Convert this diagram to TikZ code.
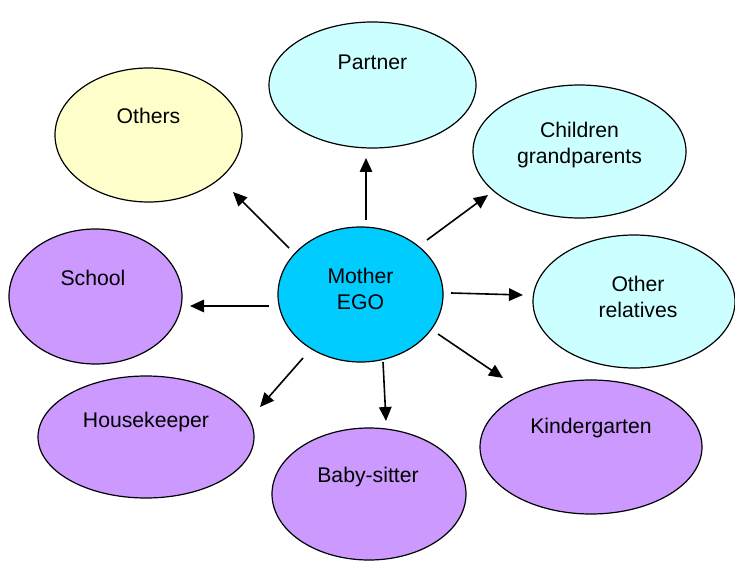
\documentclass[tikz,border=0pt]{standalone}
\usepackage{fontspec}
\setmainfont{Liberation Sans}
\usetikzlibrary{shapes.geometric,arrows.meta}
\definecolor{lcyan}{HTML}{CCFFFF}
\definecolor{lyellow}{HTML}{FFFFCC}
\definecolor{lpurple}{HTML}{CC99FF}
\definecolor{egoblue}{HTML}{00CCFF}
\begin{document}
\begin{tikzpicture}[x=1pt,y=-1pt,
  bubble/.style={ellipse,draw=black,line width=1.2pt,inner sep=0pt},
  txt/.style={align=center,font=\fontsize{21.2}{26}\selectfont,inner sep=0pt},
  arr/.style={line width=1.6pt,-{Triangle[length=14pt,width=12.5pt]}}]
\useasboundingbox (0,0) rectangle (735,561);
% bubbles
\node[bubble,fill=lcyan,minimum width=207pt,minimum height=126pt] (partner) at (372.5,85) {};
\node[bubble,fill=lyellow,minimum width=187pt,minimum height=134pt] (others) at (148.5,135) {};
\node[bubble,fill=lcyan,minimum width=213pt,minimum height=133pt] (children) at (579.5,151.5) {};
\node[bubble,fill=egoblue,minimum width=165pt,minimum height=135pt] (ego) at (360.5,294.5) {};
\node[bubble,fill=lpurple,minimum width=173pt,minimum height=135pt] (school) at (95.5,296.5) {};
\node[bubble,fill=lcyan,minimum width=202pt,minimum height=133pt] (relatives) at (634,301.5) {};
\node[bubble,fill=lpurple,minimum width=216pt,minimum height=122pt] (housekeeper) at (146,437) {};
\node[bubble,fill=lpurple,minimum width=222pt,minimum height=134pt] (kindergarten) at (591,447) {};
\node[bubble,fill=lpurple,minimum width=194pt,minimum height=132pt] (babysitter) at (369,494) {};
% texts
\node[txt] (tpartner) at (372.5,62) {Partner};
\node[txt] (tothers) at (148.5,116) {Others};
\node[txt] (tchildren) at (579.5,145) {Children\\grandparents};
\node[txt] (tego) at (360.5,288.5) {Mother\\EGO};
\node[txt] (tschool) at (93,278) {School};
\node[txt] (trelatives) at (638,296.5) {Other\\relatives};
\node[txt] (thousekeeper) at (146,422) {Housekeeper};
\node[txt] (tkindergarten) at (591,428) {Kindergarten};
\node[txt] (tbabysitter) at (368,477) {Baby-sitter};
% arrow end points
\coordinate (s1) at (366,220); \coordinate (e1) at (366,158);
\coordinate (s2) at (289,248); \coordinate (e2) at (233,192);
\coordinate (s3) at (427,240); \coordinate (e3) at (488,195);
\coordinate (s4) at (451,293); \coordinate (e4) at (523,295);
\coordinate (s5) at (438,334); \coordinate (e5) at (503,378);
\coordinate (s6) at (383,362); \coordinate (e6) at (386,421);
\coordinate (s7) at (303,358); \coordinate (e7) at (260,407);
\coordinate (s8) at (269,306); \coordinate (e8) at (190,306);
\foreach \i in {1,...,8} \draw[arr] (s\i) -- (e\i);
\end{tikzpicture}
\end{document}
